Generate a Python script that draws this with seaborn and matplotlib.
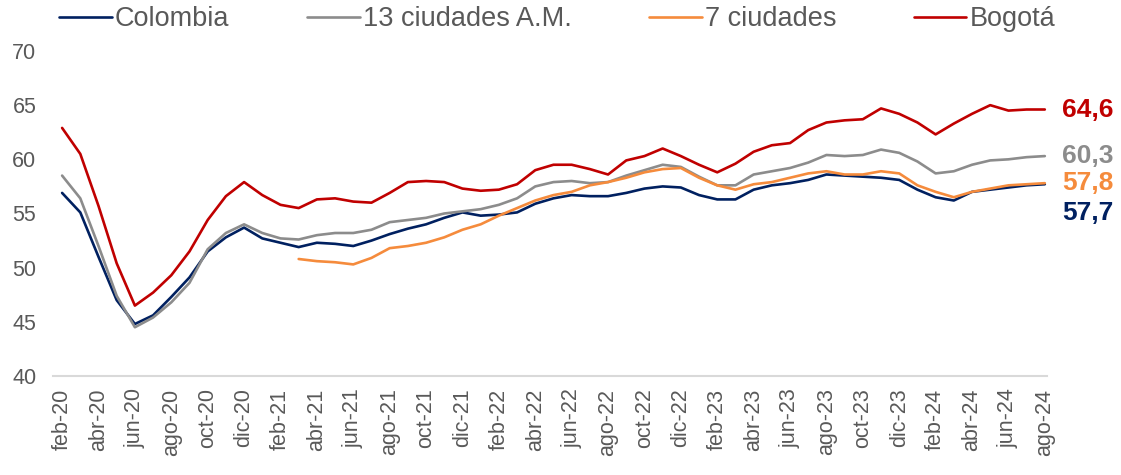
import numpy as np
import pandas as pd
import matplotlib
matplotlib.use("Agg")
import matplotlib.pyplot as plt
from matplotlib.lines import Line2D
import seaborn as sns

# ---------------- data ----------------
month_abbr = ["ene", "feb", "mar", "abr", "may", "jun", "jul", "ago", "sep", "oct", "nov", "dic"]
months = []
y, m = 2020, 1  # starts feb-20
for _ in range(55):
    months.append(f"{month_abbr[m]}-{str(y)[2:]}")
    m += 1
    if m == 12:
        m = 0
        y += 1

colombia = [56.9, 55.1, 51.0, 47.0, 44.8, 45.6, 47.3, 49.1, 51.5, 52.8,
            53.7, 52.7, 52.3, 51.9, 52.3, 52.2, 52.0, 52.5, 53.1, 53.6,
            54.0, 54.6, 55.1, 54.8, 54.9, 55.1, 55.9, 56.4, 56.7, 56.6,
            56.6, 56.9, 57.3, 57.5, 57.4, 56.7, 56.3, 56.3, 57.2, 57.6,
            57.8, 58.1, 58.6, 58.5, 58.4, 58.3, 58.1, 57.2, 56.5, 56.2,
            57.0, 57.2, 57.4, 57.6, 57.7]

ciudades13 = [58.5, 56.4, 52.0, 47.4, 44.5, 45.4, 46.8, 48.6, 51.7, 53.2,
              54.0, 53.2, 52.7, 52.6, 53.0, 53.2, 53.2, 53.5, 54.2, 54.4,
              54.6, 55.0, 55.2, 55.4, 55.8, 56.4, 57.5, 57.9, 58.0, 57.8,
              57.9, 58.5, 59.0, 59.5, 59.3, 58.4, 57.6, 57.6, 58.6, 58.9,
              59.2, 59.7, 60.4, 60.3, 60.4, 60.9, 60.6, 59.8, 58.7, 58.9,
              59.5, 59.9, 60.0, 60.2, 60.3]

ciudades7 = [np.nan] * 13 + [
              50.8, 50.6, 50.5, 50.3, 50.9, 51.8, 52.0,
              52.3, 52.8, 53.5, 54.0, 54.8, 55.5, 56.2, 56.7, 57.0, 57.6,
              57.9, 58.3, 58.8, 59.1, 59.2, 58.3, 57.6, 57.2, 57.7, 57.9,
              58.3, 58.7, 58.9, 58.6, 58.6, 58.9, 58.7, 57.6, 57.0, 56.5,
              57.0, 57.3, 57.6, 57.7, 57.8]

bogota = [62.9, 60.5, 55.7, 50.4, 46.5, 47.7, 49.3, 51.5, 54.4, 56.6,
          57.9, 56.7, 55.8, 55.5, 56.3, 56.4, 56.1, 56.0, 56.9, 57.9,
          58.0, 57.9, 57.3, 57.1, 57.2, 57.7, 59.0, 59.5, 59.5, 59.1,
          58.6, 59.9, 60.3, 61.0, 60.3, 59.5, 58.8, 59.6, 60.7, 61.3,
          61.5, 62.7, 63.4, 63.6, 63.7, 64.7, 64.2, 63.4, 62.3, 63.3,
          64.2, 65.0, 64.5, 64.6, 64.6]

series_names = ["Colombia", "13 ciudades A.M.", "7 ciudades", "Bogotá"]
series_values = [colombia, ciudades13, ciudades7, bogota]
colors = ["#002060", "#8C8C8C", "#F58B3C", "#C00000"]
y_ticks = [40, 45, 50, 55, 60, 65, 70]

# ---------------- frame ----------------
rows = []
for name, vals in zip(series_names, series_values):
    for i, v in enumerate(vals):
        rows.append({"idx": i, "mes": months[i], "serie": name, "valor": v})
df = pd.DataFrame(rows)

# ---------------- style ----------------
sns.set_style("white")
plt.rcParams["font.family"] = ["Liberation Sans", "DejaVu Sans"]
text_gray = "#595959"

fig = plt.figure(figsize=(11.21, 4.75), dpi=100)
ax = fig.add_axes([53 / 1121, 1 - 376 / 475, (1047 - 53) / 1121, (376 - 51) / 475])

sns.lineplot(data=df, x="idx", y="valor", hue="serie", hue_order=series_names,
             palette=colors, linewidth=1.9, ax=ax, legend=False, sort=True)

ax.set_xlim(-0.5, 54.12)
ax.set_ylim(40, 70)
ax.set_yticks(y_ticks)
ax.set_yticklabels([str(t) for t in y_ticks], fontsize=15.5, color=text_gray)
ax.set_xticks(range(0, 55, 2))
ax.set_xticklabels(months[::2], rotation=90, fontsize=15.5, color=text_gray)
ax.tick_params(axis="both", length=0)
ax.tick_params(axis="y", pad=12)
ax.tick_params(axis="x", pad=9)
ax.set_xlabel("")
ax.set_ylabel("")
ax.grid(False)
for s in ["left", "right", "top"]:
    ax.spines[s].set_visible(False)
ax.spines["bottom"].set_color("#D9D9D9")
ax.spines["bottom"].set_linewidth(1.5)

# end labels
offsets = [-2.7, 0, 0, 0]
for name, vals, col, off in zip(series_names, series_values, colors, offsets):
    v = vals[-1]
    ax.text(54.93, v + off, f"{v:.1f}".replace(".", ","), color=col,
            fontsize=19, fontweight="bold", ha="left", va="center", clip_on=False)

# legend
handles = [Line2D([0], [0], color=c, linewidth=1.9) for c in colors]
leg = fig.legend(handles, series_names, loc="center left",
                 bbox_to_anchor=(59 / 1121, 1 - 19 / 475), ncol=4, frameon=False,
                 fontsize=19.5, handlelength=1.95, handletextpad=0.12,
                 columnspacing=2.85, borderpad=0, borderaxespad=0)
for t in leg.get_texts():
    t.set_color(text_gray)

fig.savefig("out.png", dpi=100)
